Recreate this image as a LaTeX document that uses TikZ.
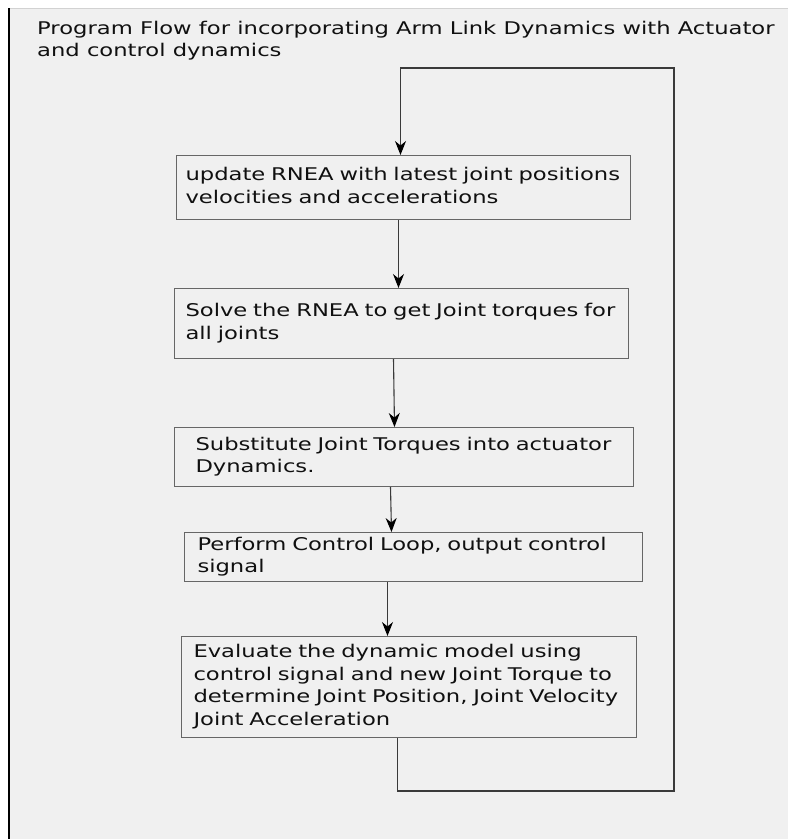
\documentclass[tikz,border=0pt]{standalone}
\usepackage{fontspec}
\setmainfont{DejaVu Sans}[FakeStretch=1.295]
\usepackage{tikz}
\usetikzlibrary{arrows.meta}
\definecolor{PanelGray}{HTML}{F0F0F0}
\definecolor{BoxEdge}{HTML}{666666}
\definecolor{FlowLine}{HTML}{3A3A3A}
\definecolor{InkBlack}{HTML}{101010}

\newcommand{\flowfont}{\fontsize{17.5}{22.7}\selectfont}
\tikzset{
  stepbox/.style={draw=BoxEdge, line width=1pt, anchor=north west,
                  align=left, inner ysep=0pt, text=InkBlack, font=\flowfont},
  flow/.style={draw=FlowLine, line width=1.1pt,
               -{Stealth[length=14pt, width=11pt, inset=4.5pt, color=black]}},
}

\begin{document}
\begin{tikzpicture}[x=1pt, y=-1pt]
\useasboundingbox (0,0) rectangle (788,839);
% panel
\fill[PanelGray] (10,8) rectangle (788,839);
\draw[gray!35, line width=0.6pt] (10,8) -- (788,8);
\draw[black, line width=1.6pt] (9,8) -- (9,839);

\node[anchor=north west, inner sep=0pt, align=left, text=InkBlack, font=\flowfont]
    (title) at (37,18) {
    \begin{tabular}{@{}l@{}}
    Program Flow for incorporating Arm Link Dynamics with Actuator\\
    and control dynamics
    \end{tabular}
};

% steps
\node[stepbox, minimum width=454pt, minimum height=64pt, inner xsep=9pt,
      text width=436pt] (update) at (176,155) {
    \begin{tabular}{@{}l@{}}
    update RNEA with latest joint positions\\
    velocities and accelerations
    \end{tabular}
};
\node[stepbox, minimum width=454pt, minimum height=70pt, inner xsep=11pt,
      text width=432pt] (solve) at (174,288) {
    \begin{tabular}{@{}l@{}}
    Solve the RNEA to get Joint torques for\\
    all joints
    \end{tabular}
};
\node[stepbox, minimum width=459pt, minimum height=59pt, inner xsep=21pt,
      text width=417pt] (subst) at (174,427) {
    \begin{tabular}{@{}l@{}}
    Substitute Joint Torques into actuator\\
    Dynamics.
    \end{tabular}
};
\node[stepbox, minimum width=458pt, minimum height=49pt, inner xsep=13pt,
      text width=432pt] (control) at (184,532) {
    \begin{tabular}{@{}l@{}}
    Perform Control Loop, output control\\
    signal
    \end{tabular}
};
\node[stepbox, minimum width=455pt, minimum height=101pt, inner xsep=12pt,
      text width=431pt] (evaluate) at (181,636) {
    \begin{tabular}{@{}l@{}}
    Evaluate the dynamic model using\\
    control signal and new Joint Torque to\\
    determine Joint Position, Joint Velocity\\
    Joint Acceleration
    \end{tabular}
};

% connectors
\draw[flow] ([xshift=-5pt]update.south) -- ([xshift=-3pt]solve.north);
\draw[flow] ([xshift=-8pt]solve.south) -- ([xshift=-9.5pt]subst.north);
\draw[flow] ([xshift=-13.5pt]subst.south) -- ([xshift=-22pt]control.north);
\draw[flow] ([xshift=-26pt]control.south) -- ([xshift=-21.5pt]evaluate.north);

% feedback back to the top
\coordinate (loop) at (674,68);
\draw[flow] ([xshift=-11.5pt]evaluate.south) -- ++(0,53) -| (loop)
    -| ([xshift=-3pt]update.north);
\end{tikzpicture}
\end{document}
